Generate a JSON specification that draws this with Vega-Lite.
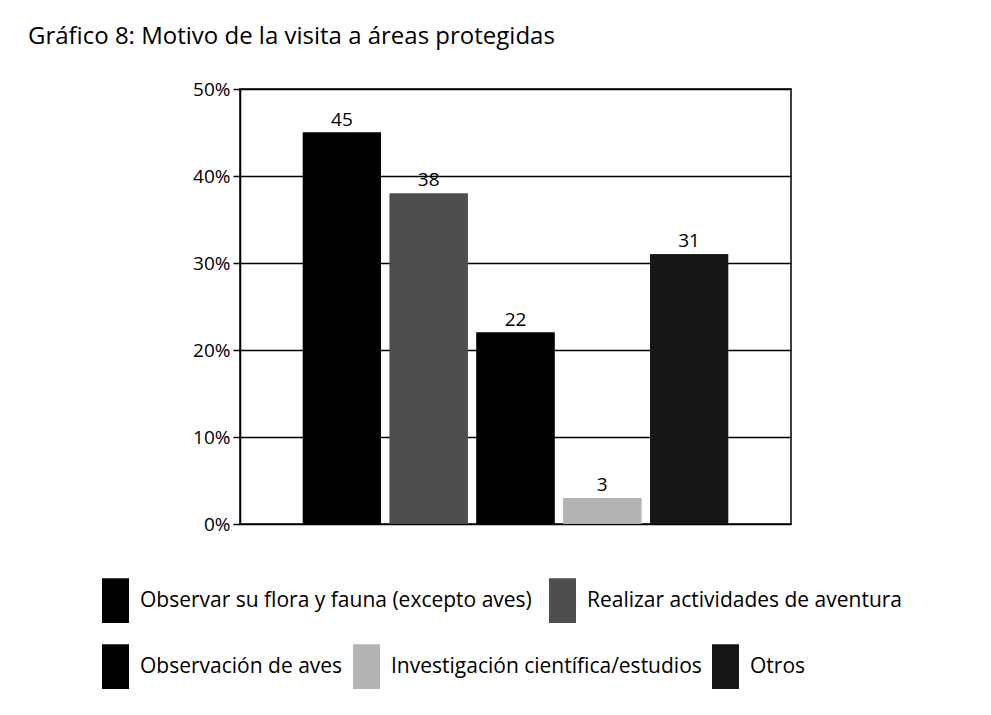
{
  "$schema": "https://vega.github.io/schema/vega-lite/v6.json",
  "width": 551,
  "height": 435,
  "autosize": {"type": "none"},
  "padding": {"left": 240, "top": 89, "right": 200, "bottom": 191},
  "background": "white",
  "title": {
    "text": "Gráfico 8: Motivo de la visita a áreas protegidas",
    "anchor": "start",
    "frame": "group",
    "font": "Open Sans",
    "fontSize": 24,
    "fontWeight": "normal",
    "color": "black",
    "baseline": "alphabetic",
    "dx": -212,
    "offset": 12
  },
  "config": {
    "view": {"stroke": "black", "strokeWidth": 1.5},
    "font": "Open Sans",
    "axis": {"labelFont": "Open Sans", "labelColor": "black"}
  },
  "data": {
    "values": [
      {"motivo": "Observar su flora y fauna (excepto aves)", "pct": 45},
      {"motivo": "Realizar actividades de aventura", "pct": 38},
      {"motivo": "Observación de aves", "pct": 22},
      {"motivo": "Investigación científica/estudios", "pct": 3},
      {"motivo": "Otros", "pct": 31}
    ]
  },
  "encoding": {
    "x": {
      "field": "motivo",
      "type": "nominal",
      "sort": null,
      "scale": {"paddingInner": 0.1, "paddingOuter": 0.724},
      "axis": null
    },
    "y": {
      "field": "pct",
      "type": "quantitative",
      "scale": {"domain": [0, 50], "nice": false},
      "axis": {
        "title": null,
        "values": [0, 10, 20, 30, 40, 50],
        "labelExpr": "datum.value + '%'",
        "labelFontSize": 19,
        "labelPadding": 3,
        "tickSize": 7,
        "tickColor": "black",
        "tickWidth": 1.5,
        "domainColor": "black",
        "domainWidth": 1.5,
        "gridColor": "black",
        "gridWidth": 1.5,
        "gridOpacity": 1
      }
    }
  },
  "layer": [
    {
      "mark": {"type": "bar", "strokeWidth": 0},
      "encoding": {
        "color": {
          "field": "motivo",
          "type": "nominal",
          "sort": null,
          "scale": {
            "domain": ["Observar su flora y fauna (excepto aves)", "Realizar actividades de aventura", "Observación de aves", "Investigación científica/estudios", "Otros"],
            "range": ["#000000", "#4e4e4e", "#000000", "#b4b4b4", "#161616"]
          },
          "legend": {
            "values": ["Observar su flora y fauna (excepto aves)", "Realizar actividades de aventura"],
            "title": null,
            "orient": "none",
            "direction": "horizontal",
            "legendX": -138,
            "legendY": 498,
            "padding": 0,
            "symbolType": "M-1,-1.66L1,-1.66L1,1.66L-1,1.66Z",
            "symbolSize": 729,
            "symbolStrokeWidth": 0,
            "symbolOpacity": 1,
            "labelFont": "Open Sans",
            "labelFontSize": 21,
            "labelColor": "black",
            "labelOffset": 11,
            "labelLimit": 600,
            "columnPadding": 17
          }
        }
      }
    },
    {
      "mark": {"type": "bar", "strokeWidth": 0},
      "encoding": {
        "fill": {
          "field": "motivo",
          "type": "nominal",
          "sort": null,
          "scale": {
            "domain": ["Observación de aves", "Investigación científica/estudios", "Otros", "Observar su flora y fauna (excepto aves)", "Realizar actividades de aventura"],
            "range": ["#000000", "#b4b4b4", "#161616", "#000000", "#4e4e4e"]
          },
          "legend": {
            "values": ["Observación de aves", "Investigación científica/estudios", "Otros"],
            "title": null,
            "orient": "none",
            "direction": "horizontal",
            "legendX": -138,
            "legendY": 564,
            "padding": 0,
            "symbolType": "M-1,-1.66L1,-1.66L1,1.66L-1,1.66Z",
            "symbolSize": 729,
            "symbolStrokeWidth": 0,
            "symbolOpacity": 1,
            "labelFont": "Open Sans",
            "labelFontSize": 21,
            "labelColor": "black",
            "labelOffset": 11,
            "labelLimit": 600,
            "columnPadding": 10,
            "encode": {
              "symbols": {
                "update": {
                  "fill": [
                    {"test": "indexof(datum.value, 'Investigaci') === 0", "value": "#e6e6e6"},
                    {"scale": "fill", "field": "value"}
                  ]
                }
              }
            }
          }
        }
      }
    },
    {
      "mark": {"type": "text", "baseline": "bottom", "dy": -3, "fontSize": 19, "font": "Open Sans", "color": "black"},
      "encoding": {
        "text": {"field": "pct", "type": "quantitative"}
      }
    }
  ]
}
